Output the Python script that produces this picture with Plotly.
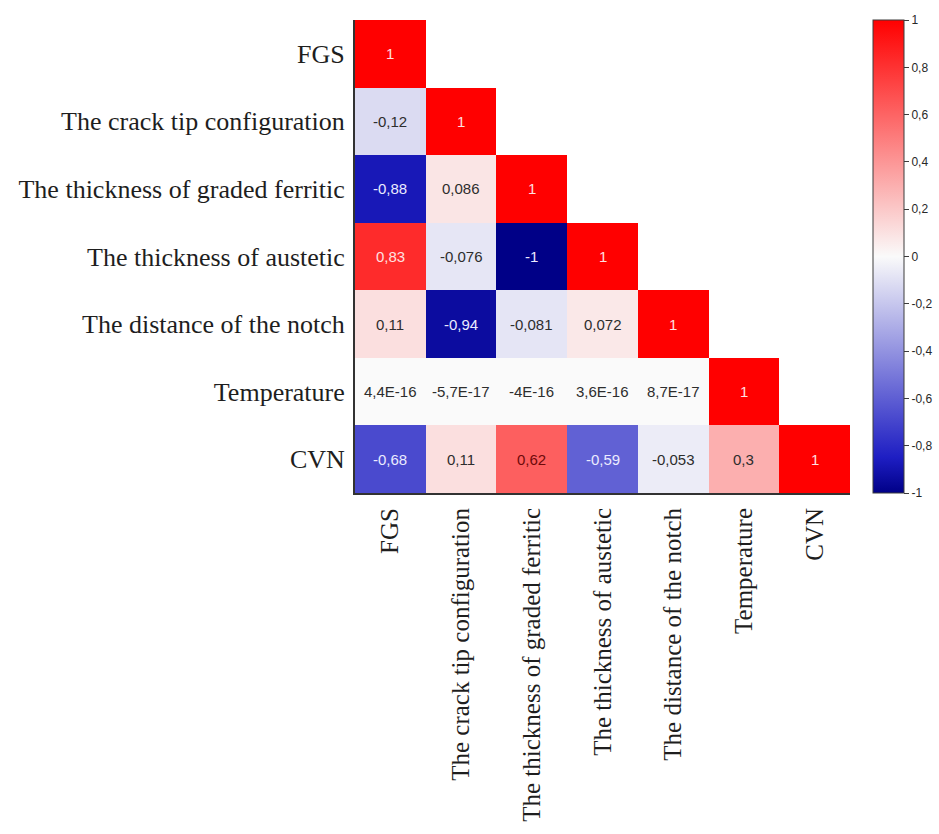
import plotly.graph_objects as go

# Variables of the correlation matrix (rows top-to-bottom, columns left-to-right)
variables = [
    "FGS",
    "The crack tip configuration",
    "The thickness of graded ferritic",
    "The thickness of austetic",
    "The distance of the notch",
    "Temperature",
    "CVN",
]

# Lower-triangular correlation coefficients, one list per row
row_fgs = [1]
row_crack = [-0.12, 1]
row_graded = [-0.88, 0.086, 1]
row_austetic = [0.83, -0.076, -1, 1]
row_notch = [0.11, -0.94, -0.081, 0.072, 1]
row_temperature = [4.4e-16, -5.7e-17, -4e-16, 3.6e-16, 8.7e-17, 1]
row_cvn = [-0.68, 0.11, 0.62, -0.59, -0.053, 0.3, 1]

rows = [row_fgs, row_crack, row_graded, row_austetic, row_notch, row_temperature, row_cvn]

cbar_vals = [1, 0.8, 0.6, 0.4, 0.2, 0, -0.2, -0.4, -0.6, -0.8, -1]

n = len(variables)
z = [r + [None] * (n - len(r)) for r in rows]


def fmt(v):
    s = "%.2g" % v
    s = s.replace("e", "E").replace("E-0", "E-")
    return s.replace(".", ",")


def text_color(v):
    if v <= -0.5:
        return "rgb(235,235,255)"
    if v >= 0.7:
        return "rgb(255,225,225)"
    if v >= 0.5:
        return "rgb(110,10,10)"
    return "rgb(45,45,45)"


colorscale = [
    [0.0, "rgb(0,0,135)"],
    [0.075, "rgb(30,30,195)"],
    [0.5, "rgb(250,250,250)"],
    [1.0, "rgb(255,0,0)"],
]

fig = go.Figure(
    go.Heatmap(
        z=z,
        x=variables,
        y=variables,
        zmin=-1,
        zmax=1,
        colorscale=colorscale,
        hoverongaps=False,
        colorbar=dict(
            xref="container",
            x=873 / 939,
            xanchor="left",
            xpad=0,
            ypad=0,
            thickness=31,
            len=1,
            y=0.5,
            yanchor="middle",
            outlinewidth=1,
            outlinecolor="rgb(60,60,60)",
            ticks="outside",
            ticklen=5,
            tickcolor="rgb(60,60,60)",
            tickvals=cbar_vals,
            ticktext=[fmt(v) for v in cbar_vals],
            tickfont=dict(family="Liberation Sans, Arial, sans-serif", size=12, color="rgb(40,40,40)"),
        ),
    )
)

annotations = []
for i, r in enumerate(rows):
    for j, v in enumerate(r):
        annotations.append(
            dict(
                x=variables[j],
                y=variables[i],
                text=fmt(v),
                showarrow=False,
                font=dict(family="Liberation Sans, Arial, sans-serif", size=15, color=text_color(v)),
            )
        )

serif = "Liberation Serif, Times New Roman, serif"

fig.update_layout(
    template="none",
    width=939,
    height=834,
    margin=dict(l=355, r=89, t=20, b=341, autoexpand=False),
    paper_bgcolor="white",
    plot_bgcolor="white",
    annotations=annotations,
    xaxis=dict(
        tickangle=-90,
        tickfont=dict(family=serif, size=25, color="rgb(30,30,30)"),
        showgrid=False,
        zeroline=False,
        showline=True,
        linecolor="rgb(50,50,50)",
        linewidth=2,
        ticks="",
        ticklabelstandoff=3,
        automargin=False,
    ),
    yaxis=dict(
        autorange="reversed",
        tickfont=dict(family=serif, size=26, color="rgb(30,30,30)"),
        showgrid=False,
        zeroline=False,
        showline=True,
        linecolor="rgb(50,50,50)",
        linewidth=2,
        ticks="",
        ticklabelstandoff=3,
        automargin=False,
    ),
)

fig.write_html("out.html")
